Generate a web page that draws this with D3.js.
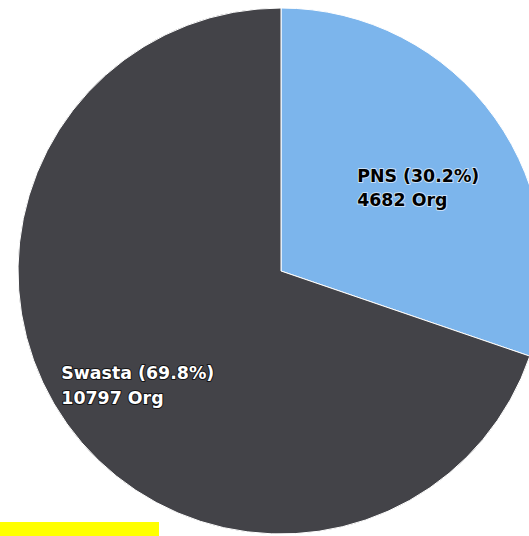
<!DOCTYPE html>
<meta charset="utf-8">
<script src="https://d3js.org/d3.v7.min.js"></script>
<style>
  html, body { margin: 0; padding: 0; background: #fff; }
  svg { display: block; }
  .label {
    font-family: "DejaVu Sans", Verdana, sans-serif;
    font-weight: bold;
    font-size: 17.4px;
    paint-order: stroke;
    stroke-width: 2px;
    stroke-linejoin: round;
  }
</style>
<body>
<script>
// chart data
var categories = ["PNS", "Swasta"];
var counts = [4682, 10797];
var colors = ["#7cb5ec", "#434348"];

var width = 529, height = 536;
var cx = 281, cy = 271, radius = 263;

var svg = d3.select("body").append("svg")
    .attr("width", width)
    .attr("height", height);

var rows = categories.map(function(c, i) { return {name: c, value: counts[i]}; });
var total = d3.sum(counts);

var pie = d3.pie()
    .sort(null)
    .value(function(d) { return d.value; });

var arc = d3.arc().innerRadius(0).outerRadius(radius);
var labelArc = d3.arc().innerRadius(radius * 0.66).outerRadius(radius * 0.66);

var g = svg.append("g")
    .attr("transform", "translate(" + cx + "," + cy + ")");

g.selectAll("path")
    .data(pie(rows))
  .enter().append("path")
    .attr("d", arc)
    .attr("fill", function(d, i) { return colors[i]; })
    .attr("stroke", "#fff")
    .attr("stroke-width", 1);

var label = g.selectAll("text")
    .data(pie(rows))
  .enter().append("text")
    .attr("class", "label")
    .attr("transform", function(d) { return "translate(" + labelArc.centroid(d) + ")"; })
    // contrast text: dark on the light slice, white on the dark one
    .attr("fill", function(d, i) { return i === 0 ? "#000" : "#fff"; })
    .attr("stroke", function(d, i) { return i === 0 ? "rgba(255,255,255,0.6)" : "rgba(0,0,0,0.7)"; });

label.append("tspan")
    .attr("class", "l1")
    .attr("y", function(d, i) { return i === 0 ? 12 : 7; })
    .text(function(d) {
      return d.data.name + " (" + (d.data.value / total * 100).toFixed(1) + "%)";
    });
label.append("tspan")
    .attr("class", "l2")
    .attr("y", function(d, i) { return i === 0 ? 36 : 32; })
    .text(function(d) { return d.data.value + " Org"; });

// left-align both lines, block centred on the label point
label.each(function(d, i) {
  var t = d3.select(this);
  var w = t.select(".l1").node().getComputedTextLength();
  t.selectAll("tspan").attr("x", -w / 2 - (i === 0 ? 4 : 2));
});

// yellow highlight bar at the bottom left
svg.append("rect")
    .attr("x", 0)
    .attr("y", 522)
    .attr("width", 159)
    .attr("height", 14)
    .attr("fill", "#ffff00");
</script>
</body>
